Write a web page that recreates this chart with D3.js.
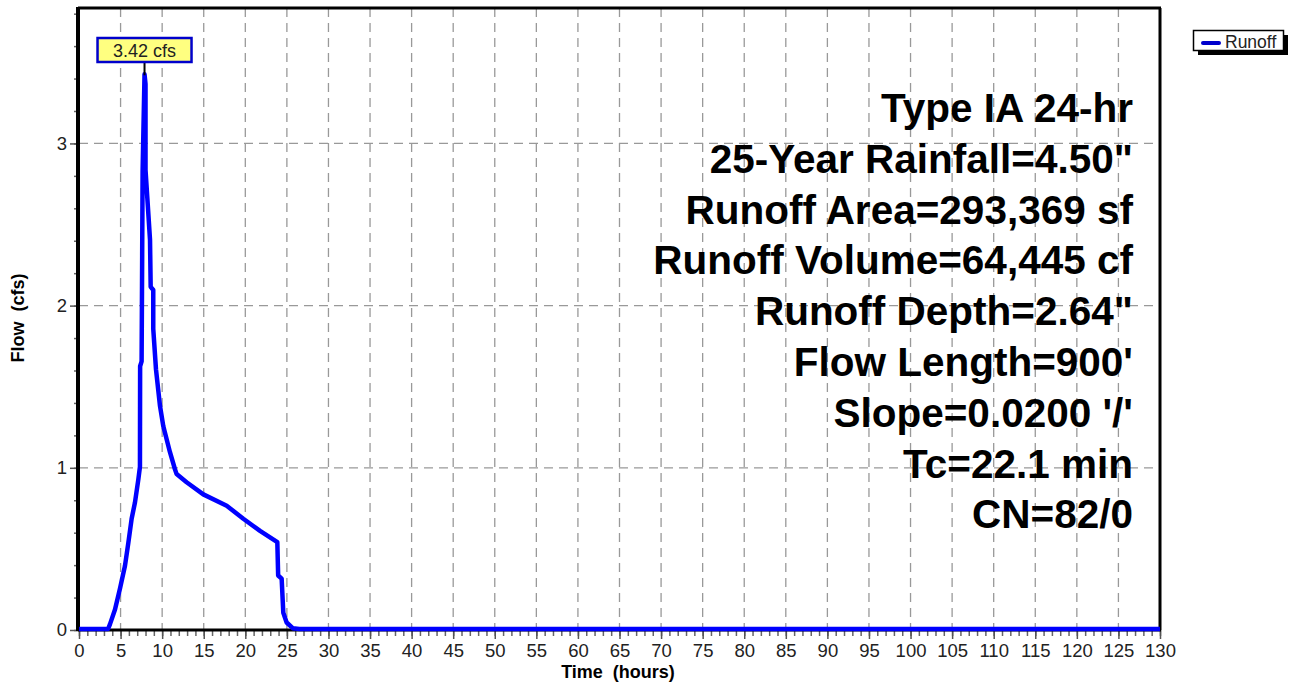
<!DOCTYPE html>
<html>
<head>
<meta charset="utf-8">
<script src="https://cdn.jsdelivr.net/npm/d3@7"></script>
<style>
  html, body { margin: 0; padding: 0; background: #fff; }
  svg { display: block; font-family: "Liberation Sans", Arial, sans-serif; }
</style>
</head>
<body>
<svg id="chart" width="1294" height="683"></svg>
<script>
// ---- data ----
const timeHours = [0, 3.5, 3.73, 4.33, 4.93, 5.53, 5.93, 6.33, 6.73, 7.13, 7.33, 7.35, 7.53, 7.65, 7.88,
  8.0, 8.0, 8.54, 8.62, 8.93, 8.93, 9.26, 9.74, 10.14, 10.94, 11.54, 11.74, 12.94, 14.95, 17.76,
  19.76, 21.77, 23.85, 23.95, 24.37, 24.57, 24.97, 25.7, 26.5, 130];
const flowCfs = [0, 0, 0.03, 0.12, 0.25, 0.39, 0.53, 0.68, 0.78, 0.92, 1.0, 1.62, 1.65, 2.82, 3.42,
  3.36, 2.83, 2.40, 2.11, 2.09, 1.85, 1.60, 1.375, 1.25, 1.09, 0.985, 0.955, 0.905, 0.83, 0.76,
  0.68, 0.605, 0.535, 0.33, 0.31, 0.10, 0.04, 0.005, 0, 0];
const xTicks = d3.range(0, 131, 5);
const yTicks = [0, 1, 2, 3];
const peakLabel = "3.42 cfs";
const peakTime = 7.88, peakFlow = 3.42;
const seriesName = "Runoff";
const infoLines = ["Type IA 24-hr", "25-Year Rainfall=4.50\"", "Runoff Area=293,369 sf",
  "Runoff Volume=64,445 cf", "Runoff Depth=2.64\"", "Flow Length=900'", "Slope=0.0200 '/'",
  "Tc=22.1 min", "CN=82/0"];

// ---- layout ----
const L = 79, R = 1160, T = 8, B = 630;
const svg = d3.select("#chart");
const x = d3.scaleLinear().domain([0, 130]).range([L, R]);
const y = d3.scaleLinear().domain([0, 3.835]).range([B, T]);

// grid
const grid = svg.append("g").attr("stroke", "#999").attr("stroke-width", 1.3).attr("stroke-dasharray", "9,6");
grid.selectAll("line.v").data(xTicks.filter(d => d > 0 && d < 130)).join("line")
  .attr("x1", d => x(d)).attr("x2", d => x(d)).attr("y1", T).attr("y2", B);
grid.selectAll("line.h").data(yTicks.filter(d => d > 0)).join("line")
  .attr("x1", L).attr("x2", R).attr("y1", d => y(d)).attr("y2", d => y(d));

// x axis (minor ticks every hour)
const xAxisG = svg.append("g").attr("transform", `translate(0,${B})`);
xAxisG.call(d3.axisBottom(x).tickValues(d3.range(0, 131, 1)).tickSize(6).tickFormat(""));
xAxisG.call(g => g.select(".domain").remove());
xAxisG.selectAll(".tick line").attr("stroke", "#666").attr("stroke-width", 1.5);
const xMajor = svg.append("g").attr("transform", `translate(0,${B})`)
  .call(d3.axisBottom(x).tickValues(xTicks).tickSize(9).tickPadding(5).tickFormat(d3.format("d")));
xMajor.select(".domain").remove();
xMajor.selectAll(".tick line").attr("stroke", "#555").attr("stroke-width", 1.5);
xMajor.selectAll(".tick text").attr("font-size", 18.5).attr("fill", "#222")
  .attr("font-family", "Liberation Sans, Arial, sans-serif");

// y axis
const yMinor = svg.append("g").attr("transform", `translate(${L},0)`)
  .call(d3.axisLeft(y).tickValues(d3.range(0, 3.81, 0.2)).tickSize(5).tickFormat(""));
yMinor.select(".domain").remove();
yMinor.selectAll(".tick line").attr("stroke", "#666").attr("stroke-width", 1.5);
const yMajor = svg.append("g").attr("transform", `translate(${L},0)`)
  .call(d3.axisLeft(y).tickValues(yTicks).tickSize(9).tickPadding(3).tickFormat(d3.format("d")));
yMajor.select(".domain").remove();
yMajor.selectAll(".tick line").attr("stroke", "#555").attr("stroke-width", 1.5);
yMajor.selectAll(".tick text").attr("font-size", 18.5).attr("fill", "#222")
  .attr("font-family", "Liberation Sans, Arial, sans-serif");

// frame
svg.append("line").attr("x1", L - 1).attr("x2", R + 1).attr("y1", T).attr("y2", T).attr("stroke", "#000").attr("stroke-width", 3);
svg.append("line").attr("x1", R).attr("x2", R).attr("y1", T).attr("y2", B).attr("stroke", "#000").attr("stroke-width", 3);
svg.append("line").attr("x1", L - 1).attr("x2", R + 1).attr("y1", B).attr("y2", B).attr("stroke", "#000").attr("stroke-width", 3);
svg.append("line").attr("x1", L - 1).attr("x2", L - 1).attr("y1", T - 1).attr("y2", B + 1).attr("stroke", "#000").attr("stroke-width", 4);

// info text
svg.append("g").selectAll("text").data(infoLines).join("text")
  .attr("x", 1133).attr("y", (d, i) => 122 + i * 50.8)
  .attr("text-anchor", "end").attr("font-size", 40.5).attr("font-weight", "bold").attr("fill", "#000")
  .text(d => d);

// curve
const pts = timeHours.map((t, i) => [t, flowCfs[i]]);
svg.append("path").datum(pts)
  .attr("fill", "none").attr("stroke", "#0000ff").attr("stroke-width", 4.5).attr("stroke-linejoin", "round")
  .attr("d", d3.line().x(d => x(d[0])).y(d => y(d[1]) - 1));

// peak label
const px = x(peakTime), py = y(peakFlow);
svg.append("line").attr("x1", px).attr("x2", px).attr("y1", 62).attr("y2", py).attr("stroke", "#000").attr("stroke-width", 2);
svg.append("rect").attr("x", px - 47).attr("y", 38).attr("width", 94).attr("height", 24)
  .attr("fill", "#ffff80").attr("stroke", "#0000cc").attr("stroke-width", 2.5);
svg.append("text").attr("x", px).attr("y", 57).attr("text-anchor", "middle").attr("font-size", 18).attr("fill", "#222").text(peakLabel);

// axis titles
svg.append("text").attr("x", 618).attr("y", 678).attr("text-anchor", "middle").attr("font-size", 18)
  .attr("font-weight", "bold").style("white-space", "pre").text("Time  (hours)");
svg.append("text").attr("transform", "translate(24,318) rotate(-90)").attr("text-anchor", "middle")
  .attr("font-size", 18).attr("font-weight", "bold").style("white-space", "pre").text("Flow  (cfs)");

// legend
const lg = svg.append("g");
lg.append("rect").attr("x", 1198).attr("y", 35).attr("width", 90).attr("height", 20).attr("fill", "#000");
lg.append("rect").attr("x", 1193.5).attr("y", 30.5).attr("width", 90).attr("height", 20).attr("fill", "#fff").attr("stroke", "#000").attr("stroke-width", 1.5);
lg.append("line").attr("x1", 1203).attr("x2", 1219).attr("y1", 43).attr("y2", 43).attr("stroke", "#0000cc").attr("stroke-width", 4).attr("stroke-linecap", "round");
lg.append("text").attr("x", 1225).attr("y", 47.5).attr("font-size", 17.5).attr("fill", "#222").text(seriesName);
</script>
</body>
</html>
